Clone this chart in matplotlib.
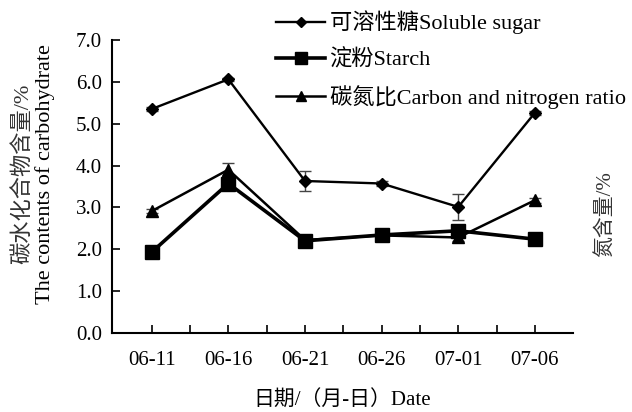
import matplotlib
matplotlib.use("Agg")
import matplotlib.pyplot as plt
from matplotlib.lines import Line2D
import numpy as np

# ── Data ───────────────────────────────────────────────────────────────────────

dates = ["06-11", "06-16", "06-21", "06-26", "07-01", "07-06"]
sugar      = [5.35, 6.06, 3.63, 3.57, 3.01, 5.26]
sugar_err  = [0.05, 0.04, 0.25, 0.05, 0.32, 0.05]
starch     = [1.93, 3.57, 2.20, 2.34, 2.44, 2.24]
starch_err = [0.04, 0.10, 0.06, 0.04, 0.15, 0.05]
cn_ratio   = [2.91, 3.90, 2.22, 2.33, 2.28, 3.17]
cn_err     = [0.05, 0.15, 0.04, 0.04, 0.08, 0.06]

FONT = ["Liberation Serif", "Noto Sans CJK SC"]
plt.rcParams["font.family"] = FONT
FS = 15

# ── Figure ─────────────────────────────────────────────────────────────────────

fig = plt.figure(figsize=(6.32, 4.12), dpi=100)
ax = fig.add_axes([0.177, 0.192, 0.730, 0.711])

x = np.arange(len(dates))

styles = [
    (sugar, sugar_err, "D", 6, 1.7, "可溶性糖Soluble sugar"),
    (starch, starch_err, "s", 10, 2.6, "淀粉Starch"),
    (cn_ratio, cn_err, "^", 9, 1.8, "碳氮比Carbon and nitrogen ratio"),
]

handles = []
for vals, err, mk, ms, lw, lab in styles:
    ax.errorbar(x, vals, yerr=err, color="black", lw=lw, marker=mk, ms=ms,
                capsize=4, elinewidth=1.0, ecolor="#444444", zorder=3)
    handles.append(Line2D([], [], color="black", lw=lw, marker=mk,
                          ms=ms * 0.8, label=lab))

# ── Axes ───────────────────────────────────────────────────────────────────────

ax.set_xlim(-0.52, 5.5)
ax.set_ylim(0, 7)
ax.set_xticks(x)
ax.set_xticklabels(dates)
ax.set_xticks(x[:-1] + 0.5, minor=True)
yt = np.arange(0, 7.1, 1.0)
ax.set_yticks(yt)
ax.set_yticklabels([f"{v:.1f}" for v in yt])

ax.tick_params(axis="both", which="both", direction="in", length=6,
               width=1.2, pad=7, labelsize=FS)
ax.tick_params(axis="x", pad=13)

for side in ["top", "right"]:
    ax.spines[side].set_visible(False)
for side in ["left", "bottom"]:
    ax.spines[side].set_linewidth(1.5)

ax.set_xlabel("日期/（月-日）Date", fontsize=FS, labelpad=15)
fig.text(0.036, 0.578, "碳水化合物含量/%", rotation=90, ha="center",
         va="center", fontsize=16, color="#333333")
fig.text(0.072, 0.578, "The contents of carbohydrate", rotation=90,
         ha="center", va="center", fontsize=16)
fig.text(0.958, 0.48, "氮含量/%", rotation=90, ha="center", va="center",
         fontsize=FS, color="#333333")

# ── Legend ─────────────────────────────────────────────────────────────────────

fig.legend(handles=handles, loc="upper left", bbox_to_anchor=(0.43, 0.985),
           frameon=False, fontsize=16, handlelength=2.2, handletextpad=0.2,
           labelspacing=0.65, borderaxespad=0.0, borderpad=0.2)

fig.savefig("out.png", dpi=100, facecolor="white")
plt.close()
